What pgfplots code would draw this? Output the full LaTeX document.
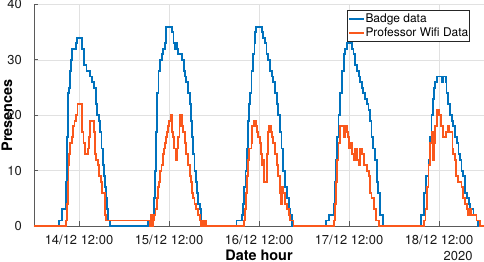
\documentclass[border=0pt]{standalone}
\usepackage{fontspec}
\setmainfont{TeX Gyre Heros}
\usepackage{pgfplots}
\pgfplotsset{compat=1.18}
\definecolor{mblue}{RGB}{0,114,189}
\definecolor{morange}{RGB}{250,88,28}
\definecolor{axgray}{RGB}{90,90,90}
\definecolor{gridgray}{RGB}{225,225,225}
\begin{document}
\begin{tikzpicture}
\begin{axis}[
 scale only axis, width=450bp, height=221.5bp,
 xmin=0, xmax=120, ymin=0, ymax=40,
 axis x line*=bottom, axis y line*=left,
 axis line style={axgray, line width=0.8bp, -},
 xtick={12,36,60,84,108},
 xticklabels={14/12 12:00,15/12 12:00,16/12 12:00,17/12 12:00,18/12 12:00},
 ytick={0,10,20,30,40},
 tick align=inside, major tick length=4.5bp,
 tick style={axgray, line width=0.8bp},
 grid=major, grid style={gridgray, line width=0.6bp},
 ticklabel style={font=\fontsize{13}{15}\selectfont, text=black!90},
 /pgf/number format/assume math mode=true,
 xticklabel style={anchor=base, inner sep=0pt, yshift=-18bp},
 yticklabel style={anchor=east, inner sep=0pt, xshift=-12bp},
 legend style={at={(rel axis cs:0.969,0.973)}, anchor=north east, draw=black!85, line width=0.6bp, fill=white, font=\fontsize{12}{14}\selectfont, inner xsep=0.5bp, inner ysep=2bp, nodes={inner sep=1bp}, /tikz/column sep=0bp, /tikz/row sep=2bp},
 legend cell align=left,
 legend image code/.code={\draw[#1] (0bp,0bp) -- (14.5bp,0bp);},
 clip=false,
]
\addlegendimage{mblue, line width=1.9bp}
\addlegendentry{Badge data}
\addlegendimage{morange, line width=1.9bp}
\addlegendentry{Professor Wifi Data}
\addplot[const plot, mblue, line width=1.9bp, forget plot] coordinates {
(0,0) (6.75,1) (7.5,3) (8.5,8) (8.75,16) (9,24) (9.25,25) (9.5,28) (9.75,30) (10.1,32) (11.3,33) (11.55,34) (12.8,32) (13.3,29) (14,28) (15,27) (15.5,26) (16,25) (16.5,22) (16.8,20) (17.3,19) (17.7,17) (18,14) (18.3,11) (18.6,9) (18.9,7) (19.2,5) (19.5,3) (19.8,1) (20.3,0)
(30.3,1) (31.7,2) (32,5) (32.3,10) (32.6,17) (32.9,24) (33.2,28) (33.6,30) (34.1,31) (34.5,32) (35,33) (35.3,36) (36.8,35) (37.2,33) (37.6,32) (37.8,33) (38.2,32) (38.5,31) (39.4,30) (40,28) (40.3,27) (40.6,26) (41,24) (41.5,22) (41.9,19) (42.2,16) (42.5,13) (42.8,10) (43.1,8) (43.4,6) (43.8,4) (44.2,3) (44.6,1) (45,0)
(54,1) (55.4,2) (55.8,4) (56.1,7) (56.4,10) (56.7,14) (57.1,19) (57.4,22) (57.6,24) (58,28) (58.5,31) (58.8,33) (59,35) (59.1,36) (60.7,35) (61.1,34) (61.6,33) (62,31) (62.5,30) (62.9,28) (63.4,27) (63.8,26) (64.3,24) (64.7,22) (65.1,20) (65.5,17) (66,14) (66.5,10) (66.9,7) (67.4,5) (67.9,3) (68.3,2) (68.7,0)
(77.9,1) (78.6,2) (79.9,4) (80.3,8) (80.6,12) (80.9,16) (81.2,20) (81.6,24) (82.1,28) (82.6,31) (83,32) (83.4,33) (83.7,35) (84.3,33) (84.8,32) (85.2,31) (85.6,29) (86.1,28) (86.6,27) (87,26) (87.4,25) (87.8,24) (88.2,23) (88.7,22) (89.2,21) (89.6,19) (90,16) (90.5,14) (90.9,12) (91.4,8) (91.8,6) (92.2,2) (93.1,0)
(103.1,2) (103.9,6) (104.5,9) (105.2,12) (105.6,16) (106,20) (106.3,23) (106.6,25) (107,26) (107.4,27) (108.8,26) (109.1,27) (109.8,26) (110,24) (110.4,22) (110.9,20) (111.4,19) (111.8,18) (112.2,16) (112.7,15) (113.2,13) (113.6,12) (114,10) (114.5,9) (115,6) (115.4,5) (115.9,4) (116.3,3) (117.2,2) (118,1) (118.5,0) (120,0)
};
\addplot[const plot, morange, line width=1.9bp, forget plot] coordinates {
(0,0) (8.6,1) (8.8,4) (9,8) (9.2,11) (9.4,13) (9.7,15) (10.1,16) (10.4,18) (10.8,19) (11.2,20) (11.6,22) (12.7,20) (12.9,17) (13.2,15) (13.5,13) (14.3,14) (14.6,16) (15,19) (15.9,17) (16.3,13) (16.6,12) (17,11) (17.4,9) (17.8,8) (18.2,6) (18.6,6) (19,2) (19.3,1)
(31,0) (31.2,2) (31.4,0) (31.7,1) (32,2) (32.4,3) (32.7,5) (33,7) (33.3,8) (33.6,10) (34,11) (34.3,13) (34.6,14) (34.9,15) (35.2,16) (35.5,17) (35.8,18) (36.1,19) (36.4,20) (36.8,17) (37.1,16) (37.4,14) (37.8,12) (38.2,14) (38.5,16) (38.8,18) (39,20) (39.5,18) (39.8,17) (40.2,15) (40.6,13) (41,11) (41.5,9) (41.9,8) (42.2,6) (42.5,5) (42.8,4) (43.3,3) (43.8,2) (44.2,1) (44.6,0) (44.9,1) (45.2,0) (45.5,1) (45.9,0)
(56,1) (56.3,3) (56.6,6) (56.9,9) (57.1,12) (57.3,14) (58,15) (58.2,18) (58.7,19) (59.2,18) (59.4,17) (59.8,16) (60.3,15) (60.5,13) (60.7,11) (61.1,12) (61.4,8) (62.2,13) (62.4,17) (62.7,18) (63.1,17) (63.4,16) (63.8,15) (64.2,13) (64.7,11) (65.1,9) (65.6,6) (65.8,4) (66.1,7) (66.5,6) (66.9,4) (67.4,3) (67.9,2) (68.3,1) (69.2,0)
(79.9,1) (80.2,4) (80.5,8) (80.8,12) (81.2,15) (81.6,18) (82.6,16) (83,18) (83.4,17) (83.7,16) (84,14) (84.4,15) (84.8,13) (85.3,12) (85.7,14) (86.1,12) (86.6,11) (87,14) (87.5,13) (87.9,11) (88.8,10) (89.3,9) (89.6,6) (90,5) (90.6,3) (91.2,1) (91.9,0)
(104,1) (104.4,3) (104.8,7) (105.2,11) (105.7,15) (106.1,17) (106.4,12) (106.7,15) (107,18) (107.4,21) (108.1,20) (108.6,18) (109,16) (109.9,17) (110.3,18) (110.6,17) (111.6,14) (111.8,13) (112.2,12) (112.6,9) (113.1,8) (114,7) (114.5,5) (114.9,4) (115.4,3) (115.8,2) (116.2,3) (116.6,2) (118,1) (119,0) (120,0)
};
\coordinate (sw) at (rel axis cs:0,0);
\coordinate (ne) at (rel axis cs:1,1);
\coordinate (yl) at (rel axis cs:0,0.5);
\coordinate (xl) at (rel axis cs:0.5,0);
\coordinate (yr) at (axis cs:108,0);
\end{axis}
\node[rotate=90, anchor=base, font=\bfseries\fontsize{14.5}{16}\selectfont, inner sep=0pt] at ([xshift=-22bp]yl) {Presences};
\node[anchor=base, font=\bfseries\fontsize{14.5}{16}\selectfont, inner sep=0pt] at ([yshift=-34bp]xl) {Date hour};
\node[anchor=base east, font=\fontsize{13}{15}\selectfont, inner sep=0pt, text=black!90] at ([xshift=33.7bp, yshift=-34bp]yr) {2020};
\pgfresetboundingbox
\path[use as bounding box] ([xshift=-34bp,yshift=-36bp]sw) rectangle ([yshift=4.5bp]ne);
\end{tikzpicture}
\end{document}
